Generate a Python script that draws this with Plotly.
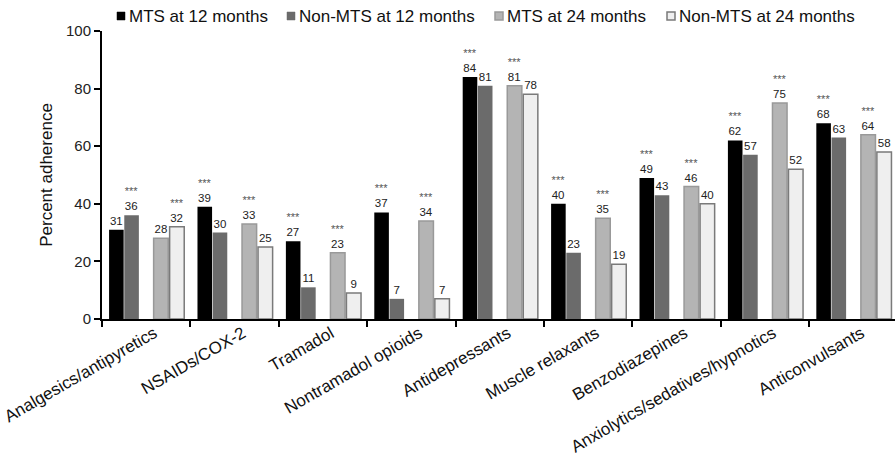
import plotly.graph_objects as go

categories = ["Analgesics/antipyretics", "NSAIDs/COX-2", "Tramadol", "Nontramadol opioids",
              "Antidepressants", "Muscle relaxants", "Benzodiazepines",
              "Anxiolytics/sedatives/hypnotics", "Anticonvulsants"]

mts_12 = [31, 39, 27, 37, 84, 40, 49, 62, 68]
non_mts_12 = [36, 30, 11, 7, 81, 23, 43, 57, 63]
mts_24 = [28, 33, 23, 34, 81, 35, 46, 75, 64]
non_mts_24 = [32, 25, 9, 7, 78, 19, 40, 52, 58]

# significance markers (***) shown above the higher bar of each pair
sig_mts_12 = [False, True, True, True, True, True, True, True, True]
sig_non_mts_12 = [True, False, False, False, False, False, False, False, False]
sig_mts_24 = [False, True, True, True, True, True, True, True, True]
sig_non_mts_24 = [True, False, False, False, False, False, False, False, False]

series_names = ["MTS at 12 months", "Non-MTS at 12 months", "MTS at 24 months", "Non-MTS at 24 months"]

FONT = "Liberation Sans, Arial, sans-serif"
W, H = 895, 455
ML, MR, MT, MB = 102, 0, 31, 136
PW, PH = W - ML - MR, H - MT - MB


def labels(vals, sig):
    out = []
    for v, s in zip(vals, sig):
        t = str(v)
        if s:
            t = "<span style='font-size:11px;color:#555'>***</span><br>" + t
        out.append(t)
    return out


styles = [
    dict(fill="#000000", line="#000000", lw=0, offset=-0.42),
    dict(fill="#6b6b6b", line="#6b6b6b", lw=0, offset=-0.248),
    dict(fill="#b4b4b4", line="#999999", lw=1.5, offset=0.084),
    dict(fill="#efefef", line="#7a7a7a", lw=1.5, offset=0.265),
]
data = [(mts_12, sig_mts_12), (non_mts_12, sig_non_mts_12), (mts_24, sig_mts_24), (non_mts_24, sig_non_mts_24)]

fig = go.Figure()
for name, (vals, sig), st in zip(series_names, data, styles):
    fig.add_trace(go.Bar(
        x=categories, y=vals, name=name,
        offset=st["offset"], width=0.165,
        marker=dict(color=st["fill"], line=dict(color=st["line"], width=st["lw"])),
        text=labels(vals, sig), textposition="outside", constraintext="none",
        textfont=dict(family=FONT, size=11.5, color="#222222"),
        cliponaxis=False, showlegend=False,
    ))

# manual legend (small square swatches placed tight to their text, as in the reference)
legend_px = [117, 287, 495, 667]  # left edge of each swatch, px
legend_y_px = 16
sw = 8
for name, st, lx in zip(series_names, styles, legend_px):
    x0 = (lx - ML) / PW
    x1 = (lx + sw - ML) / PW
    y0 = (H - MB - (legend_y_px + sw / 2)) / PH
    y1 = (H - MB - (legend_y_px - sw / 2)) / PH
    fig.add_shape(type="rect", xref="paper", yref="paper", x0=x0, x1=x1, y0=y0, y1=y1,
                  fillcolor=st["fill"], line=dict(color=st["line"], width=max(st["lw"], 0.5)))
    fig.add_annotation(xref="paper", yref="paper", x=(lx + sw + 1.5 - ML) / PW,
                       y=(H - MB - legend_y_px) / PH, xanchor="left", yanchor="middle",
                       text=name, showarrow=False,
                       font=dict(family=FONT, size=17, color="#111111"))

fig.update_layout(
    width=W, height=H,
    margin=dict(l=ML, r=MR, t=MT, b=MB, autoexpand=False),
    barmode="overlay",
    plot_bgcolor="white", paper_bgcolor="white",
    font=dict(family=FONT, color="#222222"),
    showlegend=False,
    xaxis=dict(
        range=[-0.5, 8.47], tickson="boundaries", ticks="outside", ticklen=6, tickwidth=1.5,
        tickcolor="#000", showline=True, linecolor="#000", linewidth=2,
        tickangle=-30, tickfont=dict(family=FONT, size=17, color="#111111"),
        ticklabelshift=8, ticklabelstandoff=-4,
        showgrid=False, zeroline=False, automargin=False,
    ),
    yaxis=dict(
        range=[0, 100], dtick=20, ticks="outside", ticklen=6, tickwidth=1.5,
        tickcolor="#000", showline=True, linecolor="#000", linewidth=2,
        tickfont=dict(family=FONT, size=15, color="#222222"),
        title=dict(text="Percent adherence", font=dict(family=FONT, size=17, color="#111111"), standoff=9),
        showgrid=False, zeroline=False, automargin=False,
    ),
)

fig.write_html("out.html", config={"displayModeBar": False},
               post_script="document.body.style.margin='0';document.body.style.overflow='hidden';")
